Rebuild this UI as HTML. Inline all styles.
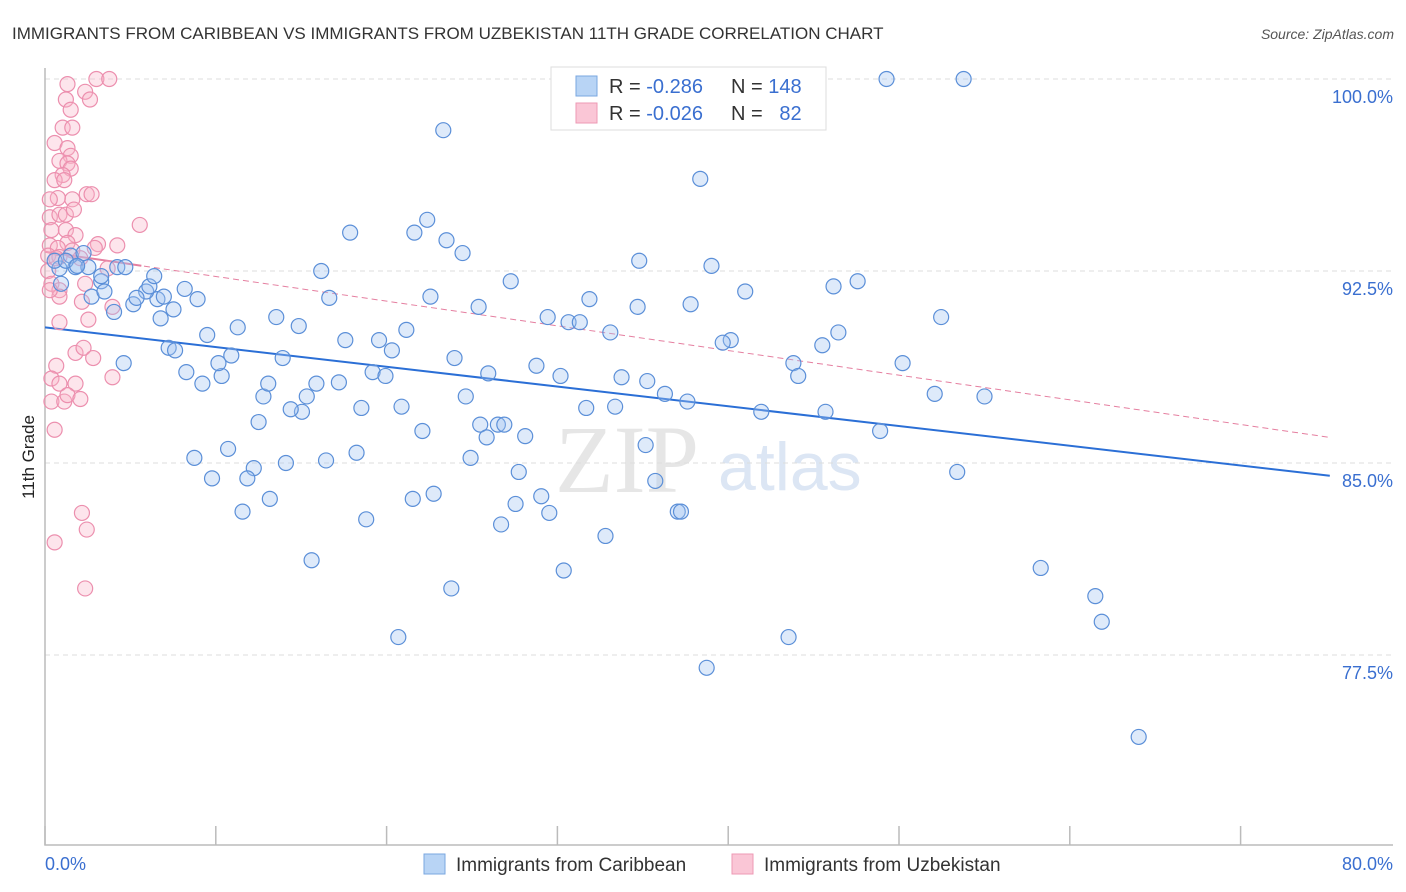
<!DOCTYPE html>
<html><head><meta charset="utf-8"><style>
body{margin:0;background:#fff;font-family:"Liberation Sans",sans-serif;}
svg{display:block}
</style></head><body>
<svg id="chart" width="1406" height="892" viewBox="0 0 1406 892">
<text x="12" y="39" font-size="17" fill="#333">IMMIGRANTS FROM CARIBBEAN VS IMMIGRANTS FROM UZBEKISTAN 11TH GRADE CORRELATION CHART</text>
<text x="1394" y="39" font-size="14" fill="#555" font-style="italic" text-anchor="end">Source: ZipAtlas.com</text>
<text x="555" y="492" font-size="96" fill="#e6e6e6" font-family="Liberation Serif,serif">ZIP</text>
<text x="718" y="490" font-size="68" fill="#dce6f4">atlas</text>
<g id="grid"></g>
<g id="axes"></g>
<g id="lines"></g>
<g id="pts"></g>
<text transform="translate(34,457) rotate(-90)" font-size="17" fill="#222" text-anchor="middle">11th Grade</text>
<g>
<rect x="551" y="67" width="275" height="63" fill="#fff" stroke="#ddd"/>
<rect x="576" y="76" width="21" height="20" fill="#b8d4f5" stroke="#7aa7e0"/>
<rect x="576" y="103" width="21" height="20" fill="#fac6d6" stroke="#ee99b4"/>
<text x="609" y="93" font-size="20" fill="#333">R = <tspan fill="#3a6fd0">-0.286</tspan></text>
<text x="731" y="93" font-size="20" fill="#333">N = <tspan fill="#3a6fd0">148</tspan></text>
<text x="609" y="120" font-size="20" fill="#333">R = <tspan fill="#3a6fd0">-0.026</tspan></text>
<text x="731" y="120" font-size="20" fill="#333">N = <tspan fill="#3a6fd0">&#160;&#160;82</tspan></text>
</g>
<g>
<rect x="424" y="854" width="21" height="20" fill="#b8d4f5" stroke="#7aa7e0"/>
<text x="456" y="871" font-size="19" fill="#333">Immigrants from Caribbean</text>
<rect x="732" y="854" width="21" height="20" fill="#fac6d6" stroke="#ee99b4"/>
<text x="764" y="871" font-size="19" fill="#333">Immigrants from Uzbekistan</text>
</g>
<text x="45" y="870" font-size="18" fill="#3a6fd0">0.0%</text>
<text x="1393" y="870" font-size="18" fill="#3a6fd0" text-anchor="end">80.0%</text>
</svg>
<script>
const blueX=[52.4,57.2,24.8,40.8,23.8,19.0,23.0,25.0,26.0,37.0,41.5,17.2,29.0,50.6,49.1,43.6,33.9,24.0,17.7,36.9,40.2,27.0,31.3,32.6,33.3,55.8,35.2,49.4,22.5,42.7,42.2,48.4,20.8,21.6,18.7,25.5,30.6,46.6,46.9,53.4,27.6,20.4,21.2,32.1,35.9,37.5,38.6,40.0,26.2,22.2,19.7,33.7,35.5,44.6,48.6,55.4,58.5,27.1,28.2,28.6,27.5,29.9,23.5,52.0,37.4,56.8,26.5,29.5,38.0,30.9,24.2,22.9,29.3,31.4,28.4,39.4,39.6,34.9,20.0,32.3,25.3,62.0,65.4,65.8,22.0,46.3,41.2,68.1,16.6,14.0,12.3,10.4,9.3,11.4,13.0,12.6,15.0,17.5,19.4,16.0,15.3,13.3,13.6,16.3,16.9,18.3,13.9,9.8,8.8,11.0,10.8,11.6,14.8,7.7,8.1,10.1,12.0,14.4,15.8,4.9,7.2,8.0,9.5,8.7,7.0,6.3,6.5,7.4,6.8,5.5,4.3,5.7,3.5,2.9,3.7,0.9,1.9,2.7,4.5,5.0,1.6,2.4,0.6,1.3,1.0,3.5,2.0];
const blueY=[100,100,98.0,96.1,94.5,94.0,94.0,93.7,93.2,92.9,92.7,92.5,92.1,92.1,91.9,91.7,91.4,91.5,91.45,91.1,91.2,91.1,90.7,90.5,90.5,90.7,90.1,90.1,90.2,89.8,89.7,89.6,89.8,89.4,89.8,89.1,88.8,88.9,88.4,88.9,88.5,88.55,88.4,88.4,88.35,88.2,87.7,87.4,87.6,87.2,87.15,87.15,87.2,87.0,87.0,87.7,87.6,86.5,86.5,86.5,86.0,86.05,86.25,86.25,85.7,84.65,85.2,84.65,84.3,83.7,83.8,83.6,83.4,83.05,82.6,83.1,83.1,82.15,82.8,80.8,80.1,80.9,79.8,78.8,78.2,78.2,77.0,74.3,81.2,83.6,83.1,84.4,85.2,85.55,84.8,84.4,85.0,85.1,85.4,87.0,87.1,86.6,87.6,87.6,88.1,88.15,88.1,88.1,88.55,88.4,88.9,89.2,89.1,89.5,89.4,90.0,90.3,90.7,90.35,88.9,90.65,91.0,91.4,91.8,91.4,91.7,91.9,91.5,92.3,91.2,90.9,91.45,92.1,91.5,91.7,92.6,92.65,92.65,92.65,92.65,93.1,93.2,92.9,92.9,92.0,92.3,92.7];
const pinkX=[1.4,3.2,4.0,2.5,2.8,1.3,1.6,1.1,1.7,0.6,1.4,1.6,0.9,1.4,1.6,1.1,0.6,1.2,1.7,2.6,2.9,0.8,0.3,5.9,0.3,0.9,0.4,1.3,1.9,1.4,3.3,3.1,4.5,0.3,0.8,1.7,0.2,0.9,2.2,0.2,0.4,0.9,2.5,0.9,2.3,3.9,2.7,0.9,4.2,1.9,2.4,0.7,3.0,0.4,0.9,1.9,0.4,1.2,1.4,2.2,4.2,0.6,2.3,2.6,0.6,2.5,1.3,0.3,0.7,1.8];
const pinkY=[99.8,100,100,99.5,99.2,99.2,98.8,98.1,98.1,97.5,97.3,97.0,96.8,96.7,96.5,96.25,96.05,96.05,95.3,95.5,95.5,95.35,95.3,94.3,94.6,94.7,94.1,94.1,93.9,93.6,93.55,93.4,93.5,93.5,93.4,93.3,93.1,93.05,93.0,92.5,92.0,91.75,92.0,91.5,91.3,92.6,90.6,90.5,91.1,89.3,89.5,88.8,89.1,88.3,88.1,88.1,87.4,87.4,87.65,87.5,88.35,86.3,83.05,82.4,81.9,80.1,94.7,91.75,93.0,94.9];
const yTicks=[100,92.5,85,77.5];
const yTickLabels=["100.0%","92.5%","85.0%","77.5%"];
const xTicks=[0,10,20,30,40,50,60,70,80];
const blueTrend=[90.3,84.5];
const pinkTrend=[93.25,86.0];
const X=v=>45+v*16.06, Y=v=>79+(100-v)*25.6;
const NS="http://www.w3.org/2000/svg";
function mk(p,t,a){const e=document.createElementNS(NS,t);for(const k in a)e.setAttribute(k,a[k]);document.getElementById(p).appendChild(e);return e;}
yTicks.forEach((t,i)=>{
 const l=mk('grid','line',{x1:45,x2:1393,y1:Y(t),y2:Y(t),stroke:'#ddd','stroke-dasharray':'5,4'});
 
 
 const tx=mk('grid','text',{x:1393,y:Y(t)+24,'font-size':18,fill:'#3a6fd0','text-anchor':'end'});
 tx.textContent=yTickLabels[i];
 
 
});
const ax=mk('axes','path',{d:'M45,68V845H1393',fill:'none',stroke:'#bbb','stroke-width':1.5});


xTicks.forEach(t=>{
 const l=mk('axes','line',{x1:X(t)+(t*1.02),x2:X(t)+(t*1.02),y1:826,y2:845,stroke:'#bbb','stroke-width':1.5});
 
 
});
const bt=mk('lines','line',{x1:X(0),y1:Y(blueTrend[0]),x2:X(80),y2:Y(blueTrend[1]),stroke:'#2b6fd6','stroke-width':2});


const pt=mk('lines','line',{x1:X(0),y1:Y(pinkTrend[0]),x2:X(80),y2:Y(pinkTrend[1]),stroke:'#e57fa0','stroke-width':1,'stroke-dasharray':'6,4'});


const ps=mk('lines','line',{x1:X(0),y1:Y(pinkTrend[0]),x2:X(6),y2:Y(pinkTrend[0]+(pinkTrend[1]-pinkTrend[0])*6/80),stroke:'#e57fa0','stroke-width':2});


pinkX.forEach((v,i)=>{
 const c=mk('pts','circle',{cx:X(v),cy:Y(pinkY[i]),r:7.5,fill:'rgba(248,180,200,0.35)',stroke:'#ec8fae','stroke-width':1.2});
 
 
});
blueX.forEach((v,i)=>{
 const c=mk('pts','circle',{cx:X(v),cy:Y(blueY[i]),r:7.5,fill:'rgba(160,195,240,0.35)',stroke:'#5b8fd8','stroke-width':1.2});
 
 
});
</script>
</body></html>
